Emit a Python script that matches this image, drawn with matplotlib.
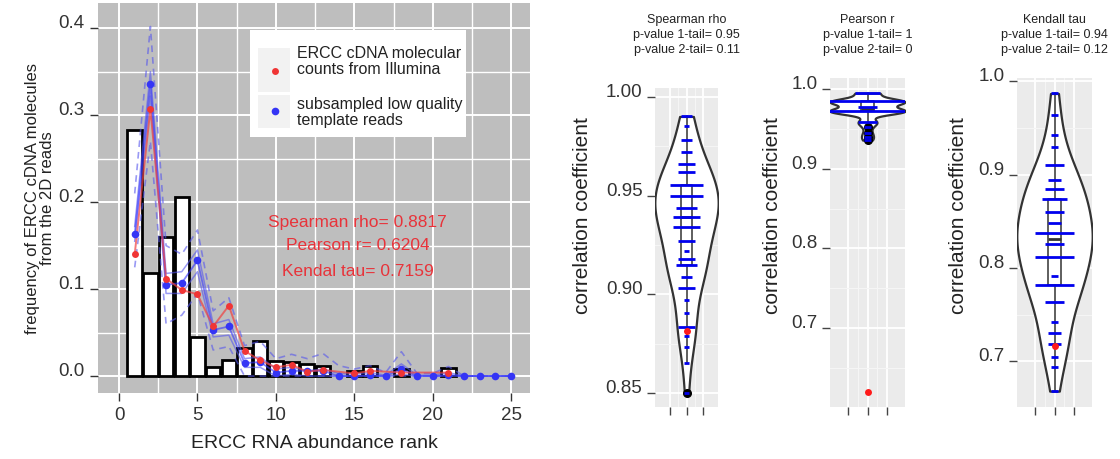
import numpy as np
import matplotlib
matplotlib.use('Agg')
import matplotlib.pyplot as plt
from matplotlib.patches import Rectangle

plt.rcParams['font.family'] = ['Liberation Sans', 'DejaVu Sans']

# ---- left panel: ERCC abundance ranks ----
bar_rank = [1, 2, 3, 4, 5, 6, 7, 8, 9, 10, 11, 12, 13, 15, 16, 18, 21]
bar_freq = [0.283, 0.118, 0.160, 0.206, 0.045, 0.010, 0.018, 0.032, 0.040,
            0.017, 0.0165, 0.014, 0.011, 0.006, 0.0115, 0.008, 0.009]

illumina_freq = [0.140, 0.307, 0.112, 0.099, 0.094, 0.057, 0.081, 0.029, 0.018,
                 0.010, 0.013, 0.005, 0.007, 0.003, 0.006, 0.004, 0.004]

blue_rank = list(range(1, 26))
blue_mean = [0.163, 0.336, 0.105, 0.107, 0.133, 0.053, 0.057, 0.015, 0.016,
             0.004, 0.006, 0.006, 0.006, 0.0, 0.0, 0.001, 0.0, 0.008, 0.0,
             0.0, 0.001, 0.0, 0.0, 0.0, 0.0]
blue_in_lo = [0.155, 0.322, 0.095, 0.095, 0.120, 0.045, 0.047, 0.010, 0.010,
              0.0, 0.002, 0.0, 0.0, 0.0, 0.0, 0.0, 0.0, 0.002, 0.0,
              0.0, 0.0, 0.0, 0.0, 0.0, 0.0]
blue_in_hi = [0.172, 0.350, 0.118, 0.120, 0.145, 0.060, 0.065, 0.020, 0.022,
              0.008, 0.010, 0.006, 0.008, 0.003, 0.002, 0.004, 0.001, 0.014, 0.001,
              0.001, 0.004, 0.0, 0.0, 0.0, 0.0]
blue_out_lo = [0.125, 0.270, 0.060, 0.070, 0.095, 0.030, 0.034, 0.0, 0.0,
               0.0, 0.0, 0.0, 0.0, 0.0, 0.0, 0.0, 0.0, 0.0, 0.0,
               0.0, 0.0, 0.0, 0.0, 0.0, 0.0]
blue_out_hi = [0.210, 0.402, 0.150, 0.140, 0.168, 0.075, 0.090, 0.035, 0.040,
               0.020, 0.025, 0.020, 0.026, 0.012, 0.008, 0.012, 0.004, 0.028, 0.003,
               0.003, 0.011, 0.0, 0.0, 0.0, 0.0]

rho_obs = 0.8817
r_obs = 0.6204
tau_obs = 0.7159

# ---- right panels: resampled correlation values and their multiplicity ----
spear_vals = [0.990, 0.985, 0.978, 0.972, 0.966, 0.962, 0.9553, 0.950, 0.9439,
              0.939, 0.934, 0.927, 0.922, 0.918, 0.915, 0.9087, 0.9031, 0.8972,
              0.8905, 0.8834, 0.879, 0.8733, 0.8652, 0.850]
spear_cnt = [2, 1, 2, 2, 3, 3, 6, 6, 4, 5, 5, 3, 1, 3, 4, 2, 3, 1, 1, 3, 1, 1, 1, 1]

pear_vals = [0.995, 0.9845, 0.978, 0.972, 0.9586, 0.952, 0.9448, 0.940, 0.936]
pear_cnt = [4, 12, 3, 12, 3, 1, 1, 1, 1]

kend_vals = [0.987, 0.964, 0.942, 0.930, 0.910, 0.8946, 0.8845, 0.874, 0.8605,
             0.848, 0.8372, 0.8254, 0.8114, 0.791, 0.7816, 0.764, 0.7426,
             0.7308, 0.719, 0.7046, 0.694, 0.668]
kend_cnt = [1, 1, 1, 1, 3, 2, 3, 4, 3, 2, 6, 3, 6, 1, 6, 3, 1, 2, 2, 1, 1, 1]

panels = [
    ('Spearman rho', '0.95', '0.11', spear_vals, spear_cnt, rho_obs,
     [0.85, 0.90, 0.95, 1.00], ['0.85', '0.90', '0.95', '1.00'],
     [0.875, 0.925, 0.975], (0.843, 1.0044)),
    ('Pearson r', '1', '0', pear_vals, pear_cnt, r_obs,
     [0.7, 0.8, 0.9, 1.0], ['0.7', '0.8', '0.9', '1.0'],
     [0.65, 0.75, 0.85, 0.95], (0.601, 1.014)),
    ('Kendall tau', '0.94', '0.12', kend_vals, kend_cnt, tau_obs,
     [0.7, 0.8, 0.9, 1.0], ['0.7', '0.8', '0.9', '1.0'],
     [0.75, 0.85, 0.95], (0.651, 1.0036)),
]

W, H = 1120, 459
fig = plt.figure(figsize=(W / 100, H / 100), dpi=100)


def px_axes(x0, y0, x1, y1):
    return fig.add_axes([x0 / W, 1 - y1 / H, (x1 - x0) / W, (y1 - y0) / H])


# ================= left panel =================
ax = px_axes(98, 3, 530, 393)
ax.set_facecolor('#BEBEBE')
ax.set_xlim(-1.34, 26.2)
ax.set_ylim(-0.0195, 0.429)
ax.set_xticks([0, 5, 10, 15, 20, 25])
ax.set_xticks(np.arange(2.5, 26, 5), minor=True)
ax.set_yticks([0.0, 0.1, 0.2, 0.3, 0.4])
ax.set_yticks([0.05, 0.15, 0.25, 0.35], minor=True)
ax.grid(True, which='major', color='white', lw=1.4)
ax.grid(True, which='minor', color='white', lw=1.0)
ax.set_axisbelow(True)
for s in ax.spines.values():
    s.set_visible(False)
ax.tick_params(which='major', length=6, width=1, color='#333333',
               labelsize=13.5, labelcolor='#333333')
ax.tick_params(which='minor', length=0)
ax.tick_params(axis='x', pad=4)
for lab in ax.get_yticklabels():
    lab.set_va('baseline')

ax.bar(bar_rank, bar_freq, width=0.92, color='white', edgecolor='black',
       linewidth=2, zorder=2)

band_c = '#5555EE'
ax.plot(blue_rank, blue_out_hi, ls=(0, (4, 3)), color=band_c, lw=1.2, alpha=0.6, zorder=3)
ax.plot(blue_rank, blue_out_lo, ls=(0, (4, 3)), color=band_c, lw=1.2, alpha=0.6, zorder=3)
ax.plot(blue_rank, blue_in_hi, color=band_c, lw=1.1, alpha=0.6, zorder=3)
ax.plot(blue_rank, blue_in_lo, color=band_c, lw=1.1, alpha=0.6, zorder=3)
ax.plot(blue_rank, blue_mean, color='#3333FF', lw=1.3, alpha=0.6, zorder=4)
ax.plot(blue_rank, blue_mean, 'o', color='#3535F5', ms=5.5, mec='none', zorder=5)
ax.plot(bar_rank, illumina_freq, color='#F04040', lw=1.4, alpha=0.7, zorder=4)
ax.plot(bar_rank, illumina_freq, 'o', color='#F03535', ms=5, mec='none', zorder=6)

red_txt = '#E8333A'
ax.text(15.2, 0.177, 'Spearman rho= %.4f' % rho_obs, color=red_txt, fontsize=12.5, ha='center', va='center')
ax.text(15.2, 0.1496, 'Pearson r= %.4f' % r_obs, color=red_txt, fontsize=12.5, ha='center', va='center')
ax.text(15.2, 0.1208, 'Kendal tau= %.4f' % tau_obs, color=red_txt, fontsize=12.5, ha='center', va='center')

# legend drawn by hand so the keys get their grey backing squares
ax.add_patch(Rectangle((0.352, 0.656), 0.50, 0.275, transform=ax.transAxes,
                       facecolor='white', edgecolor='none', zorder=7))
ax.add_patch(Rectangle((0.37, 0.772), 0.074, 0.113, transform=ax.transAxes,
                       facecolor='#F2F2F2', edgecolor='none', zorder=8))
ax.add_patch(Rectangle((0.37, 0.679), 0.074, 0.085, transform=ax.transAxes,
                       facecolor='#F2F2F2', edgecolor='none', zorder=8))
ax.plot([0.41], [0.826], 'o', color='#F03535', ms=5, mec='none', transform=ax.transAxes, zorder=9)
ax.plot([0.41], [0.723], 'o', color='#3535F5', ms=5.5, mec='none', transform=ax.transAxes, zorder=9)
ax.text(0.46, 0.849, 'ERCC cDNA molecular\ncounts from Illumina', transform=ax.transAxes,
        fontsize=11.5, color='#222222', va='center', ha='left', linespacing=1.1, zorder=9)
ax.text(0.46, 0.72, 'subsampled low quality\ntemplate reads', transform=ax.transAxes,
        fontsize=11.5, color='#222222', va='center', ha='left', linespacing=1.1, zorder=9)

ax.set_xlabel('ERCC RNA abundance rank', fontsize=14, color='#222222', labelpad=8)
ax.set_ylabel('frequency of ERCC cDNA molecules\nfrom the 2D reads', fontsize=12,
              color='#222222', linespacing=1.0, va='center')
ax.yaxis.set_label_coords(-0.135, 0.5)


# ================= right panels: violins =================
def violin_profile(vals, cnt, n_pts=300):
    v = np.repeat(vals, cnt)
    q75, q25 = np.percentile(v, [75, 25])
    bw = 0.9 * min(v.std(ddof=1), (q75 - q25) / 1.34) * len(v) ** -0.2
    y = np.linspace(v.min(), v.max(), n_pts)
    d = np.exp(-0.5 * ((y[:, None] - v[None, :]) / bw) ** 2).sum(axis=1)
    return y, d / d.max()


boxes = [(655, 88, 718, 407), (830, 78, 905, 407), (1017, 78, 1092, 407)]
ylab_x = [583, 772, 959]

for (name, p1, p2, vals, cnt, obs, yt, ytl, ymin, ylim), bx, lx in zip(panels, boxes, ylab_x):
    va = px_axes(*bx)
    va.set_facecolor('#EBEBEB')
    va.set_xlim(0.06, 3.94)
    va.set_ylim(*ylim)
    va.set_xticks([1, 2, 3])
    va.set_xticklabels([])
    va.set_xticks([1.5, 2.5], minor=True)
    va.set_yticks(yt)
    va.set_yticklabels(ytl)
    va.set_yticks(ymin, minor=True)
    va.grid(True, which='major', color='white', lw=1.3)
    va.grid(True, which='minor', color='#F5F5F5', lw=0.8)
    va.set_axisbelow(True)
    for s in va.spines.values():
        s.set_visible(False)
    va.tick_params(which='major', length=6, width=1, color='#444444',
                   labelsize=13.5, labelcolor='#333333', pad=3)
    va.tick_params(which='minor', length=0)
    for lab in va.get_yticklabels():
        lab.set_va('baseline')

    y, d = violin_profile(vals, cnt)
    hw = 1.95 * d
    va.fill_betweenx(y, 2 - hw, 2 + hw, facecolor='white', edgecolor='#333333',
                     lw=1.6, zorder=2)

    data = np.repeat(vals, cnt)
    va.boxplot([data], positions=[2], widths=0.65, showcaps=False, manage_ticks=False,
               boxprops=dict(color='#333333', lw=1.1),
               whiskerprops=dict(color='#333333', lw=1.1),
               medianprops=dict(color='#333333', lw=2),
               flierprops=dict(marker='o', markerfacecolor='black', markeredgecolor='black',
                               markersize=5.5),
               zorder=3)

    for v_, c_ in zip(vals, cnt):
        va.plot([2 - 0.167 * c_, 2 + 0.167 * c_], [v_, v_], color='#0000EE', lw=2,
                solid_capstyle='butt', zorder=4)
    va.plot([2], [obs], 'o', color='#FF1A1A', ms=5, mec='none', zorder=5)

    cx = (bx[0] + bx[2]) / 2 / W
    fig.text(cx, 1 - 35 / H, '%s\np-value 1-tail= %s\np-value 2-tail= %s' % (name, p1, p2),
             ha='center', va='center', fontsize=9, color='#222222', linespacing=1.3)
    fig.text(lx / W, 1 - 216 / H, 'correlation coefficient', rotation=90,
             ha='center', va='center', fontsize=15, color='#222222')

fig.savefig('out.png', dpi=100)
